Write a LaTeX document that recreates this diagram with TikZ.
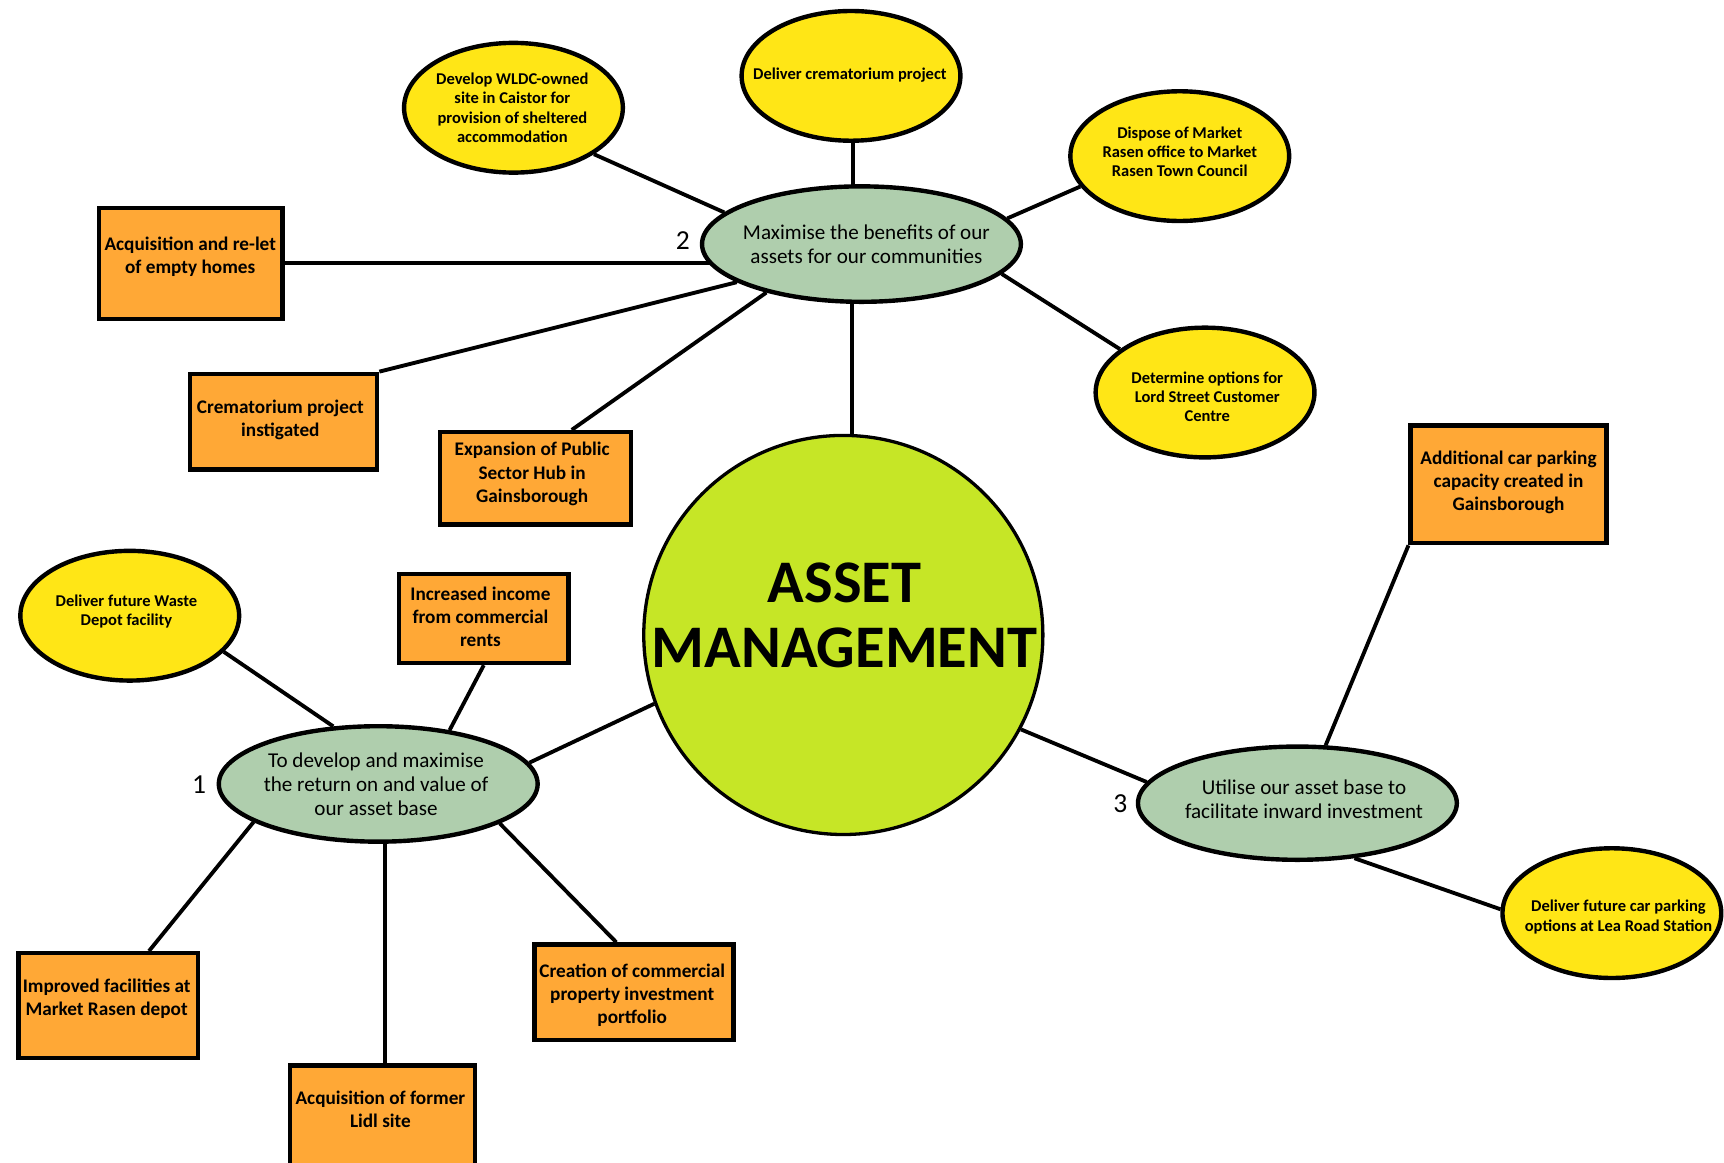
\documentclass[tikz,border=0pt]{standalone}
\usepackage{fontspec}
\setmainfont{Carlito}
\usetikzlibrary{shapes.geometric,calc,backgrounds}
\definecolor{yfill}{RGB}{255,230,22}
\definecolor{ofill}{RGB}{255,168,54}
\definecolor{gfill}{RGB}{175,206,173}
\definecolor{cfill}{RGB}{198,230,38}
\begin{document}
\begin{tikzpicture}[x=1pt,y=-1pt,
  yel/.style={ellipse, draw=black, line width=4pt, fill=yfill, minimum width=199pt, minimum height=118pt, inner sep=0pt},
  ytxt/.style={align=center, font=\fontsize{15}{17.4}\selectfont\bfseries, inner sep=0pt},
  org/.style={rectangle, draw=black, line width=4pt, fill=ofill, inner sep=0pt},
  otxt/.style={align=center, font=\fontsize{17.5}{21}\selectfont\bfseries, inner sep=0pt},
  grn/.style={ellipse, draw=black, line width=4pt, fill=gfill, minimum width=290pt, minimum height=105pt, inner sep=0pt},
  gtxt/.style={align=center, font=\fontsize{19.2}{22}\selectfont, inner sep=0pt},
  num/.style={font=\fontsize{25}{25}\selectfont, inner sep=0pt},
  conn/.style={line width=3.5pt}
]
\useasboundingbox (0,0) rectangle (1568,1057);
\clip (0,0) rectangle (1568,1057);

% central circle
\node[circle, draw=black, line width=3pt, fill=cfill, minimum size=363pt, inner sep=0pt] (c) at (767,577.5) {};
\node[align=center, font=\fontsize{55}{59}\selectfont\bfseries, inner sep=0pt] (ct) at (768,560) {ASSET\\MANAGEMENT};

% green goal ellipses
\node[grn] (g1) at (344,713) {};
\node[gtxt] (g1t) at (342,713) {To develop and maximise\\the return on and value of\\our asset base};
\node[grn] (g2) at (783.5,222) {};
\node[gtxt] (g2t) at (788,222) {Maximise the benefits of our\\assets for our communities};
\node[grn, minimum height=103pt] (g3) at (1180,730.5) {};
\node[gtxt] (g3t) at (1186,727) {Utilise our asset base to\\facilitate inward investment};
\node[num] (n1) at (181,714) {1};
\node[num] (n2) at (621,219) {2};
\node[num] (n3) at (1019,731) {3};

% yellow ellipses
\node[yel] (y1) at (467,98) {};
\node[ytxt] (y1t) at (466,98) {Develop WLDC-owned\\site in Caistor for\\provision of sheltered\\accommodation};
\node[yel] (y2) at (774,69) {};
\node[ytxt] (y2t) at (773,68) {Deliver crematorium project};
\node[yel] (y3) at (1073,142) {};
\node[ytxt] (y3t) at (1073,138) {Dispose of Market\\Rasen office to Market\\Rasen Town Council};
\node[yel] (y4) at (1096,357) {};
\node[ytxt] (y4t) at (1098,361) {Determine options for\\Lord Street Customer\\Centre};
\node[yel] (y5) at (118,560) {};
\node[ytxt] (y5t) at (115,556) {Deliver future Waste\\Depot facility};
\node[yel] (y6) at (1466,830.5) {};
\node[ytxt] (y6t) at (1472,834) {Deliver future car parking\\options at Lea Road Station};

% orange boxes
\node[org, minimum width=167pt, minimum height=101pt] (b1) at (173.5,239.5) {};
\node[otxt] (b1t) at (173,233.5) {Acquisition and re-let\\of empty homes};
\node[org, minimum width=170pt, minimum height=87pt] (b2) at (258,383.5) {};
\node[otxt] (b2t) at (255,381.5) {Crematorium project\\instigated};
\node[org, minimum width=174pt, minimum height=84pt] (b3) at (487,435) {};
\node[otxt] (b3t) at (484,431) {Expansion of Public\\Sector Hub in\\Gainsborough};
\node[org, minimum width=154pt, minimum height=81pt] (b4) at (440,562.5) {};
\node[otxt] (b4t) at (437,561) {Increased income\\from commercial\\rents};
\node[org, minimum width=163pt, minimum height=95pt] (b5) at (98.5,914.5) {};
\node[otxt] (b5t) at (97,908.5) {Improved facilities at\\Market Rasen depot};
\node[org, minimum width=168pt, minimum height=91pt] (b6) at (348,1014.5) {};
\node[otxt] (b6t) at (346,1008.6) {Acquisition of former\\Lidl site};
\node[org, minimum width=181pt, minimum height=87pt] (b7) at (576.5,902.5) {};
\node[otxt] (b7t) at (575,905) {Creation of commercial\\property investment\\portfolio};
\node[org, minimum width=178pt, minimum height=107pt] (b8) at (1372,440.5) {};
\node[otxt] (b8t) at (1372,439) {Additional car parking\\capacity created in\\Gainsborough};

% connectors
\begin{scope}[on background layer]
\draw[conn] ($(y2.south)+(2,0)$) -- ($(g2.center)+(-7.5,0)$);
\draw[conn] (g2.167) -- (y1.-30);
\draw[conn] (g2.10) -- (y3.197);
\draw[conn] (g2.-12) -- (y4.153);
\draw[conn] (b1.east) -- (b1.east -| g2.center);
\draw[conn] (g2.197) -- (b2.north east);
\draw[conn] (g2.207) -- ($(b3.north)+(33,0)$);
\draw[conn] ($(g2.center)+(-8.5,0)$) -- ($(c.center)+(8,0)$);
\draw[conn] (c.200) -- (g1.8);
\draw[conn] (c.-28) -- (g3.172);
\draw[conn] (g1.128) -- (y5.-21);
\draw[conn] (g1.37) -- (b4.south);
\draw[conn] (g1.197) -- ($(b5.north)+(37,0)$);
\draw[conn] ($(b6.north)+(2,0)$) -- ($(g1.center)+(6,0)$);
\draw[conn] (g1.-18) -- ($(b7.north)+(-16,0)$);
\draw[conn] (g3.64) -- (b8.south west);
\draw[conn] (g3.-44) -- (y6.178);
\end{scope}
\end{tikzpicture}
\end{document}
